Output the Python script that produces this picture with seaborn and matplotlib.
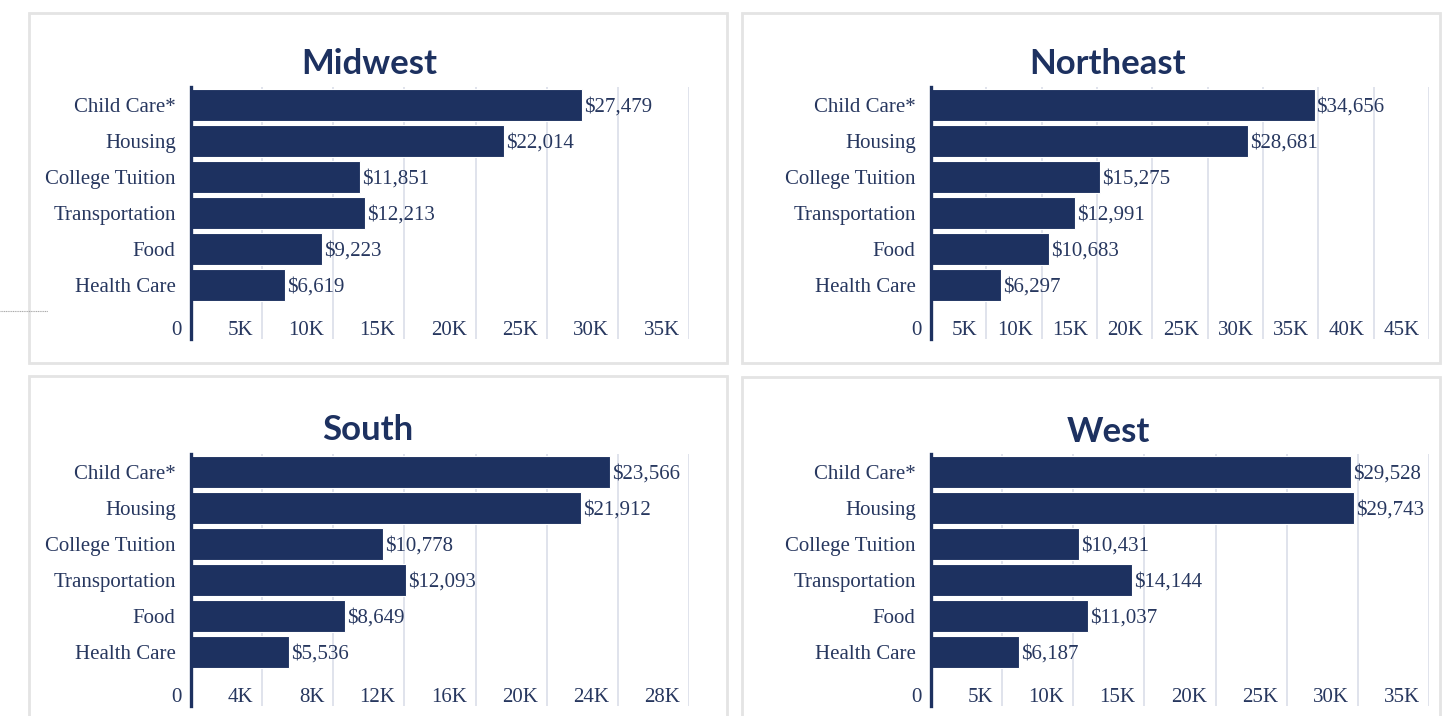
import matplotlib
matplotlib.use("Agg")
import matplotlib.pyplot as plt
import matplotlib.transforms as mtransforms
from matplotlib.patches import Rectangle
from matplotlib.lines import Line2D
import seaborn as sns
import pandas as pd

sns.set_theme(style="white")
plt.rcParams["font.family"] = ["Liberation Serif", "DejaVu Serif"]

categories = ["Child Care*", "Housing", "College Tuition", "Transportation", "Food", "Health Care"]
regions = ["Midwest", "Northeast", "South", "West"]
midwest = [27479, 22014, 11851, 12213, 9223, 6619]
northeast = [34656, 28681, 15275, 12991, 10683, 6297]
south = [23566, 21912, 10778, 12093, 8649, 5536]
west = [29528, 29743, 10431, 14144, 11037, 6187]
midwest_ticks = [0, 5000, 10000, 15000, 20000, 25000, 30000, 35000]
northeast_ticks = [0, 5000, 10000, 15000, 20000, 25000, 30000, 35000, 40000, 45000]
south_ticks = [0, 4000, 8000, 12000, 16000, 20000, 24000, 28000]
west_ticks = [0, 5000, 10000, 15000, 20000, 25000, 30000, 35000]
midwest_labels = ["0", "5K", "10K", "15K", "20K", "25K", "30K", "35K"]
northeast_labels = ["0", "5K", "10K", "15K", "20K", "25K", "30K", "35K", "40K", "45K"]
south_labels = ["0", "4K", "8K", "12K", "16K", "20K", "24K", "28K"]
west_labels = ["0", "5K", "10K", "15K", "20K", "25K", "30K", "35K"]

values = [midwest, northeast, south, west]
ticks = [midwest_ticks, northeast_ticks, south_ticks, west_ticks]
tick_labels = [midwest_labels, northeast_labels, south_labels, west_labels]

W, H = 1456, 716
NAVY = "#1d3160"
TEXT = "#27375f"
GRID = "#dde0ea"

fig = plt.figure(figsize=(W / 100, H / 100), dpi=100)
fig.patch.set_facecolor("white")

# panel boxes (pixel coords, top-left origin)
boxes = [(29, 13, 698, 350), (742, 13, 698, 350), (29, 376, 698, 360), (742, 377, 698, 360)]
for (bx, by, bw, bh) in boxes:
    fig.add_artist(Rectangle((bx / W, 1 - (by + bh) / H), bw / W, bh / H,
                             transform=fig.transFigure, fill=False,
                             edgecolor="#e4e4e4", linewidth=2.0))

# small artifact on the left edge
fig.add_artist(Line2D([0 / W, 48 / W], [1 - 311 / H, 1 - 311 / H],
                      transform=fig.transFigure, color="#aaaaaa", linewidth=0.8,
                      linestyle=(0, (1, 0.6))))

axes_pos = [(191, 87), (931, 87), (191, 454), (931, 454)]
title_pos = [(369, 64), (1108, 64), (368, 430), (1108, 432)]
AW, AH = 498, 252

for k, region in enumerate(regions):
    px, py = axes_pos[k]
    ax = fig.add_axes([px / W, 1 - (py + AH) / H, AW / W, AH / H])
    df = pd.DataFrame({"category": categories, "value": values[k]})
    sns.barplot(data=df, x="value", y="category", orient="h", color=NAVY,
                saturation=1, width=0.88, edgecolor="white", linewidth=0.8, ax=ax)
    tk = ticks[k]
    ax.set_xlim(0, tk[-1])
    ax.set_ylim(6.5, -0.5)
    ax.set_xticks(tk)
    ax.set_xticklabels([])
    ax.tick_params(axis="x", length=0)
    ax.grid(axis="x", color=GRID, linewidth=1.3)
    ax.grid(axis="y", visible=False)
    ax.set_axisbelow(True)
    ax.set_xlabel("")
    ax.set_ylabel("")
    for s in ["top", "right", "bottom"]:
        ax.spines[s].set_visible(False)
    ax.spines["left"].set_color(NAVY)
    ax.spines["left"].set_linewidth(2.4)
    ax.tick_params(axis="y", length=0, pad=11, labelsize=15, labelcolor=TEXT)
    for lab in ax.get_yticklabels():
        lab.set_fontfamily(["Liberation Serif"])
    # x tick labels inside the axes, right-aligned just left of gridlines
    off = mtransforms.offset_copy(ax.transData, fig=fig, x=-9, y=0, units="dots")
    for t, l in zip(tk, tick_labels[k]):
        ax.text(t, 6.26, l, transform=off, ha="right", va="center",
                fontsize=15, color=TEXT, family=["Liberation Serif"], clip_on=False)
    # value labels
    voff = mtransforms.offset_copy(ax.transData, fig=fig, x=2, y=-2, units="dots")
    for i, v in enumerate(values[k]):
        ax.text(v, i, f"${v:,}", transform=voff, ha="left", va="center",
                fontsize=15, color=TEXT, family=["Liberation Serif"], clip_on=False)
    tx, ty = title_pos[k]
    fig.text(tx / W, 1 - ty / H, region, ha="center", va="center",
             fontsize=25, fontweight="bold", color=NAVY, family=["Lato", "DejaVu Sans"])

fig.savefig("out.png", dpi=100, facecolor="white")
